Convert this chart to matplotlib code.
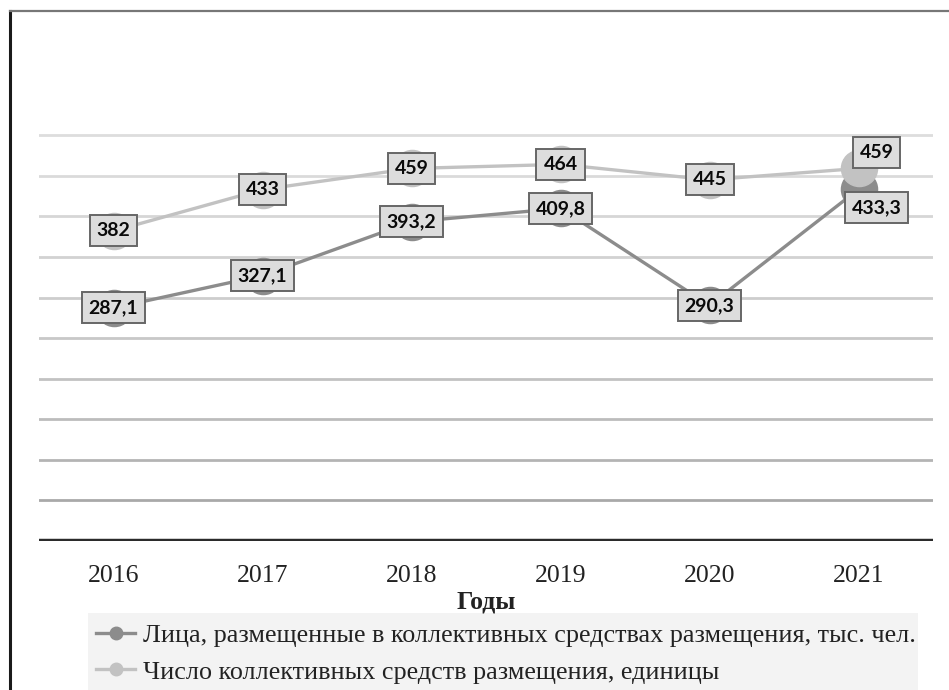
import matplotlib
matplotlib.use("Agg")
import matplotlib.pyplot as plt
from matplotlib.lines import Line2D
from matplotlib.patches import Rectangle

years = ["2016", "2017", "2018", "2019", "2020", "2021"]
persons = [287.1, 327.1, 393.2, 409.8, 290.3, 433.3]
persons_labels = ["287,1", "327,1", "393,2", "409,8", "290,3", "433,3"]
facilities = [382, 433, 459, 464, 445, 459]
facilities_labels = ["382", "433", "459", "464", "445", "459"]
series_names = ["Лица, размещенные в коллективных средствах размещения, тыс. чел.",
                "Число коллективных средств размещения, единицы"]
grid_values = [50, 100, 150, 200, 250, 300, 350, 400, 450, 500]
xlabel = "Годы"

W, H = 949, 690
fig = plt.figure(figsize=(W / 100, H / 100), dpi=100)
fig.patch.set_facecolor("white")

ax = fig.add_axes([39 / W, 149 / H, (933 - 39) / W, (541 - 54) / H])
ax.set_xlim(-0.5, 5.5)
ax.set_ylim(0, 600)
x = list(range(len(years)))

grid_cols = ["#a9a9a9", "#b4b4b4", "#bcbcbc", "#c2c2c2", "#c8c8c8",
             "#cdcdcd", "#d2d2d2", "#d6d6d6", "#dadada", "#dddddd"]
for v, c in zip(grid_values, grid_cols):
    ax.axhline(v, color=c, lw=2.0, zorder=1)
ax.axhline(0, color="#2b2b2b", lw=3.2, zorder=2)

for s in ax.spines.values():
    s.set_visible(False)
ax.set_yticks([])
ax.set_xticks(x)
ax.set_xticklabels(years, fontfamily="Liberation Serif", fontsize=18.5, color="#222222")
ax.tick_params(axis="x", length=0, pad=17)
ax.set_xlabel(xlabel, fontfamily="Liberation Serif", fontsize=18.5, fontweight="bold",
              color="#222222", labelpad=3)

dark = "#8c8c8c"
light = "#c2c2c2"
ax.plot(x, persons, color=dark, lw=2.4, marker="o", ms=26, mfc=dark, mec=dark,
        zorder=3, label=series_names[0])
ax.plot(x, facilities, color=light, lw=2.4, marker="o", ms=26, mfc=light, mec=light,
        zorder=4, label=series_names[1])

bbox = dict(boxstyle="square,pad=0.36", fc="#dddddd", ec="#666666", lw=1.4)
for i in x:
    off_p = (0, 0)
    off_f = (0, 0)
    if i == len(x) - 1:
        off_p = (18, -18)
        off_f = (18, 16)
    ax.annotate(persons_labels[i], (i, persons[i]), xytext=off_p, textcoords="offset pixels",
                ha="center", va="center", fontfamily="Lato", fontweight="bold",
                fontsize=14, color="#0a0a0a", bbox=bbox, zorder=6)
    ax.annotate(facilities_labels[i], (i, facilities[i]), xytext=off_f, textcoords="offset pixels",
                ha="center", va="center", fontfamily="Lato", fontweight="bold",
                fontsize=14, color="#0a0a0a", bbox=bbox, zorder=6)

fig.add_artist(Rectangle((88 / W, 0), (918 - 88) / W, (690 - 613) / H,
                         transform=fig.transFigure, fc="#f3f3f3", ec="none", zorder=0))
handles = [Line2D([], [], color=dark, lw=2.4, marker="o", ms=9, mfc=dark, mec=dark),
           Line2D([], [], color=light, lw=2.4, marker="o", ms=9, mfc=light, mec=light)]
leg = fig.legend(handles, series_names, loc="upper left",
                 bbox_to_anchor=(96 / W, 1 - 624 / H),
                 prop={"family": "Liberation Serif", "size": 18.8},
                 frameon=False, handlelength=1.5, handletextpad=0.3,
                 labelspacing=0.5, borderpad=0, borderaxespad=0)
for t in leg.get_texts():
    t.set_color("#222222")

fig.add_artist(Line2D([10 / W, 10 / W], [0, 1 - 11 / H], transform=fig.transFigure,
                      color="#1a1a1a", lw=2.2))
fig.add_artist(Line2D([10 / W, 1], [1 - 11 / H, 1 - 11 / H], transform=fig.transFigure,
                      color="#777777", lw=1.6))

fig.savefig("out.png", dpi=100)
